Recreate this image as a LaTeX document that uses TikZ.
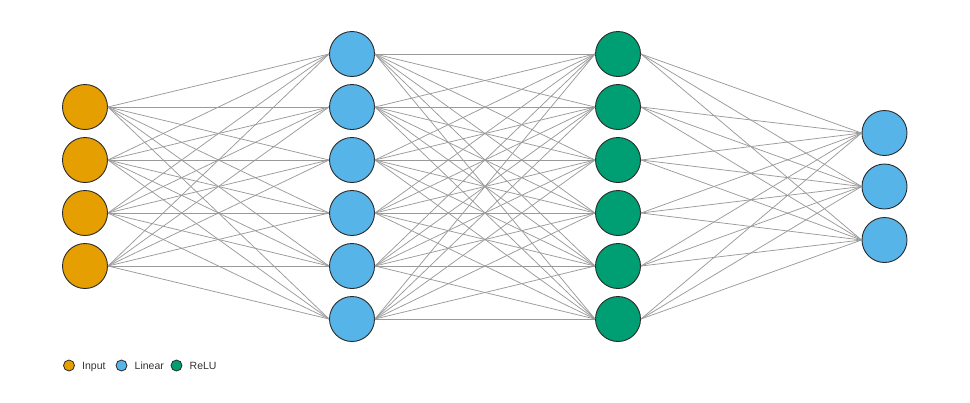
\documentclass[tikz,border=0pt]{standalone}
\usepackage{fontspec}
\setmainfont{Liberation Sans}
\definecolor{cin}{HTML}{E69F00}
\definecolor{clin}{HTML}{56B4E9}
\definecolor{crelu}{HTML}{009E73}
\definecolor{cedge}{HTML}{9A9A9A}
\definecolor{cline}{HTML}{2A2A2A}
\tikzset{
  neuron/.style={circle, draw=cline, line width=0.9pt, minimum size=45pt, inner sep=0pt},
  innode/.style={neuron, fill=cin},
  linnode/.style={neuron, fill=clin},
  relunode/.style={neuron, fill=crelu},
  conn/.style={draw=cedge, line width=0.75pt},
  legdot/.style={circle, draw=cline, line width=0.8pt, minimum size=11pt, inner sep=0pt},
  legtext/.style={anchor=base west, inner sep=0pt, font=\fontsize{10.5}{12}\selectfont, text=black!80}
}
\begin{document}
\begin{tikzpicture}[x=1pt,y=-1pt]
\useasboundingbox (0,0) rectangle (970,402);
% input layer
\foreach \i/\y in {1/107,2/160,3/213,4/266} \node[innode] (i\i) at (85,\y) {};
% hidden linear layer
\foreach \i/\y in {1/54,2/107,3/160,4/213,5/266,6/319} \node[linnode] (h\i) at (352,\y) {};
% relu layer
\foreach \i/\y in {1/54,2/107,3/160,4/213,5/266,6/319} \node[relunode] (r\i) at (618,\y) {};
% output layer
\foreach \i/\y in {1/133,2/186.5,3/240} \node[linnode] (o\i) at (884.5,\y) {};
% connections
\foreach \a in {1,...,4} \foreach \b in {1,...,6} \draw[conn] (i\a.east) -- (h\b.west);
\foreach \a in {1,...,6} \foreach \b in {1,...,6} \draw[conn] (h\a.east) -- (r\b.west);
\foreach \a in {1,...,6} \foreach \b in {1,...,3} \draw[conn] (r\a.east) -- (o\b.west);
% legend
\node[legdot, fill=cin] (l1) at (69,365.5) {};
\node[legtext] (t1) at (82,369.3) {Input};
\node[legdot, fill=clin] (l2) at (121.5,365.5) {};
\node[legtext] (t2) at (134.5,369.3) {Linear};
\node[legdot, fill=crelu] (l3) at (176.5,365.5) {};
\node[legtext] (t3) at (189.5,369.3) {ReLU};
\end{tikzpicture}
\end{document}
